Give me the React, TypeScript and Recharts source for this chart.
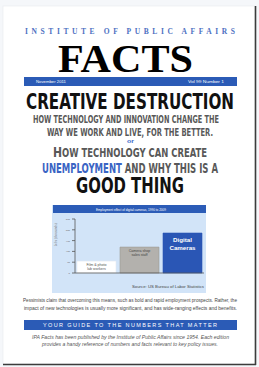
import React from 'react';
import { BarChart, Bar, XAxis, YAxis, Cell, Rectangle } from 'recharts';

// chart values
const categories = ['Film lab workers', 'Camera retail staff', 'Digital Cameras'];
const barLines = [
  ['Film & photo', 'lab workers'],
  ['Camera shop', 'sales staff'],
  ['Digital', 'Cameras'],
];
const jobs = [55, 120, 185];
const yTicks = [0, 50, 100, 150, 200, 250];
const barColors = ['#ffffff', '#b3b1ad', '#2a56b5'];
const barStrokes = ['#e4eaf2', '#9c9a96', '#2a56b5'];
const labelColors = ['#555555', '#444444', '#ffffff'];

const data = categories.map((name, i) => ({ name, jobs: jobs[i], idx: i }));

const HEAVY = "'DejaVu Sans Condensed', 'DejaVu Sans', sans-serif";
const SERIF = "'Liberation Serif', 'DejaVu Serif', serif";
const SANS = "'Liberation Sans', Arial, sans-serif";

const Fit = ({ x1, x2, y, size, fill = '#000', family = SANS, weight = 'normal', adjust = 'spacingAndGlyphs', style, children }: any) => (
  <text
    x={x1}
    y={y}
    fontSize={size}
    fill={fill}
    fontFamily={family}
    fontWeight={weight}
    textLength={x2 - x1}
    lengthAdjust={adjust}
    style={style}
  >
    {children}
  </text>
);

// tall condensed headline: small font stretched vertically
const Tall = ({ x1, x2, y, size, sy, fill = '#111', children }: any) => (
  <text
    x={0}
    y={0}
    transform={`translate(${x1} ${y}) scale(1 ${sy})`}
    fontSize={size}
    fill={fill}
    fontFamily={HEAVY}
    fontWeight="bold"
    textLength={x2 - x1}
    lengthAdjust="spacingAndGlyphs"
  >
    {children}
  </text>
);

const BarWithLabel = (props: any) => {
  const { x, y, width, height, payload } = props;
  const i = payload.idx;
  const big = i === 2;
  const fs = big ? 6.2 : 3.6;
  const lh = big ? 7.5 : 4.6;
  const top = y + (big ? 9 : 4.5);
  return (
    <g>
      <Rectangle x={x} y={y} width={width} height={height} fill={barColors[i]} stroke={barStrokes[i]} strokeWidth={0.6} />
      {barLines[i].map((line, k) => (
        <text
          key={k}
          x={x + width / 2}
          y={top + k * lh}
          textAnchor="middle"
          fontSize={fs}
          fill={labelColors[i]}
          fontFamily={SANS}
          fontWeight={big ? 'bold' : 'normal'}
        >
          {line}
        </text>
      ))}
    </g>
  );
};

export default function App() {
  return (
    <div style={{ position: 'absolute', left: 0, top: 0, width: 259, height: 367, background: '#f5f7fa', overflow: 'hidden' }}>
      <style>{'body{margin:0}'}</style>
      <svg width={259} height={367} style={{ position: 'absolute', left: 0, top: 0 }}>
        <rect x={3} y={6} width={252} height={358} fill="#ffffff" stroke="#e8eaef" strokeWidth={0.6} />
        <line x1={255.5} y1={6} x2={255.5} y2={365} stroke="#3c3c3c" strokeWidth={1.6} />
        <line x1={3} y1={364.5} x2={256} y2={364.5} stroke="#3c3c3c" strokeWidth={1.6} />

        <Fit x1={25} x2={235} y={34} size={7.5} fill="#4d70c2" family={SERIF} weight="bold" adjust="spacing">
          INSTITUTE OF PUBLIC AFFAIRS
        </Fit>
        <Fit x1={58} x2={193} y={72} size={41} family={SERIF} weight="bold">
          FACTS
        </Fit>

        <rect x={24} y={77} width={213} height={9} fill="#2b5bb6" />
        <Fit x1={36} x2={66} y={83.3} size={4} fill="#ffffff">November 2011</Fit>
        <Fit x1={188} x2={224} y={83.3} size={4} fill="#ffffff">Vol 99 Number 1</Fit>

        <Tall x1={26} x2={234} y={108.5} size={15.3} sy={1.4} fill="#111">
          CREATIVE DESTRUCTION
        </Tall>
        <Tall x1={33} x2={219} y={123} size={7.2} sy={1.35} fill="#585858">
          HOW TECHNOLOGY AND INNOVATION CHANGE THE
        </Tall>
        <Tall x1={47} x2={213} y={135.5} size={6.9} sy={1.4} fill="#585858">
          WAY WE WORK AND LIVE, FOR THE BETTER.
        </Tall>
        <Fit x1={127} x2={134} y={143} size={4.5} fill="#3c68c8" weight="bold">or</Fit>
        <Tall x1={53} x2={207} y={157} size={9} sy={1.3} fill="#585858">
          <tspan fontSize={11.5}>H</tspan>OW TECHNOLOGY CAN CREATE
        </Tall>
        <Tall x1={42} x2={218} y={173} size={9.2} sy={1.45} fill="#585858">
          <tspan fill="#3a64c4">UNEMPLOYMENT</tspan> AND WHY THIS IS A
        </Tall>
        <Tall x1={76} x2={184} y={193} size={16.4} sy={1.25} fill="#111">
          GOOD THING
        </Tall>

        <rect x={52} y={205} width={154} height={88} fill="#d2e4f8" />
        <rect x={53} y={205} width={153} height={8} fill="#2c5cb7" />
        <Fit x1={96} x2={166} y={210.6} size={3.6} fill="#ffffff">
          Employment effect of digital cameras, 1990 to 2009
        </Fit>
        <Fit x1={132} x2={204} y={288} size={4} fill="#444">
          Source: US Bureau of Labor Statistics
        </Fit>

        <Fit x1={23} x2={237} y={302} size={5} fill="#444">
          Pessimists claim that overcoming this means, such as bold and rapid employment prospects. Rather, the
        </Fit>
        <Fit x1={24} x2={237} y={309.5} size={5} fill="#444">
          impact of new technologies is usually more significant, and has wide-ranging effects and benefits.
        </Fit>

        <rect x={24} y={320} width={213} height={10} fill="#2b5bb6" />
        <Fit x1={43} x2={217} y={327} size={5.5} fill="#ffffff" adjust="spacing">
          YOUR GUIDE TO THE NUMBERS THAT MATTER
        </Fit>
        <Fit x1={32} x2={229} y={339} size={4.6} fill="#555" style={{ fontStyle: 'italic' }}>
          IPA Facts has been published by the Institute of Public Affairs since 1954. Each edition
        </Fit>
        <Fit x1={42} x2={218} y={345.5} size={4.6} fill="#555" style={{ fontStyle: 'italic' }}>
          provides a handy reference of numbers and facts relevant to key policy issues.
        </Fit>
      </svg>

      <div style={{ position: 'absolute', left: 52, top: 205 }}>
        <BarChart
          width={154}
          height={88}
          data={data}
          margin={{ top: 14, right: 2, bottom: 0, left: 0 }}
          barCategoryGap={2}
        >
          <XAxis dataKey="name" tick={false} tickLine={false} height={20} axisLine={{ stroke: '#555', strokeWidth: 0.8 }} />
          <YAxis
            width={23}
            domain={[0, 250]}
            ticks={yTicks}
            tickSize={3}
            tick={{ fontSize: 2.8, fill: '#666' }}
            axisLine={{ stroke: '#555', strokeWidth: 0.8 }}
            tickLine={{ stroke: '#555', strokeWidth: 0.8 }}
            label={{ value: 'Jobs (thousands)', angle: -90, position: 'insideLeft', offset: 4, fontSize: 3.4, fill: '#777' }}
          />
          <Bar dataKey="jobs" isAnimationActive={false} shape={BarWithLabel}>
            {data.map((d, i) => (
              <Cell key={d.name} fill={barColors[i]} />
            ))}
          </Bar>
        </BarChart>
      </div>
    </div>
  );
}
